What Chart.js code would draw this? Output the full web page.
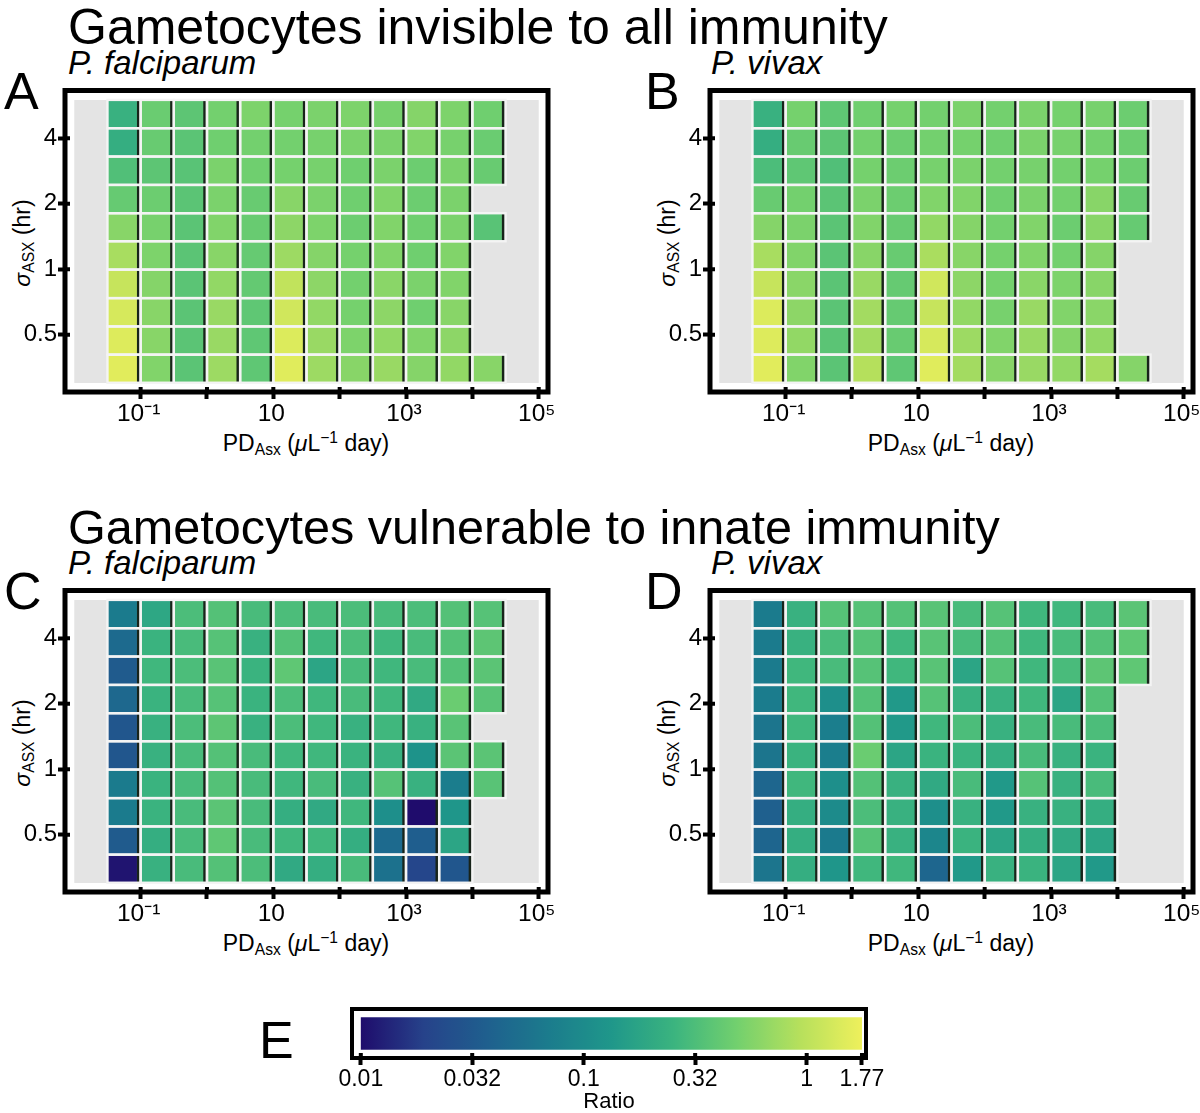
<!DOCTYPE html>
<html>
<head>
<meta charset="utf-8">
<script src="https://cdn.jsdelivr.net/npm/chart.js@4.4.0/dist/chart.umd.min.js"></script>
<style>
  html, body { margin:0; padding:0; background:#fff; }
  body { width:1200px; height:1113px; position:relative; overflow:hidden; font-family:"Liberation Sans", Arial, sans-serif; color:#000; }
  canvas { position:absolute; }
  .t { position:absolute; white-space:nowrap; line-height:1; color:#000; }
  .title { font-size:50px; }
  .title2 { font-size:48.6px; }
  .sub { font-size:33px; font-style:italic; }
  .letter { font-size:52px; }
  .axt { font-size:23px; }
  .axt sub { font-size:0.68em; vertical-align:-0.28em; line-height:0; }
  .axt sup { font-size:0.68em; vertical-align:0.5em; line-height:0; }
  .ytitle { transform:translate(-50%,-50%) rotate(-90deg); }
  .xtitle { transform:translateX(-50%); }
</style>
</head>
<body>
<div class="t title" style="left:68px;top:2px;">Gametocytes invisible to all immunity</div>
<div class="t title2" style="left:68px;top:503px;">Gametocytes vulnerable to innate immunity</div>
<div class="t sub" style="left:68px;top:46px;">P. falciparum</div>
<div class="t sub" style="left:711px;top:46px;">P. vivax</div>
<div class="t sub" style="left:68px;top:546px;">P. falciparum</div>
<div class="t sub" style="left:711px;top:546px;">P. vivax</div>
<div class="t letter" style="left:4px;top:65px;">A</div>
<div class="t letter" style="left:645px;top:65px;">B</div>
<div class="t letter" style="left:4px;top:565px;">C</div>
<div class="t letter" style="left:645px;top:565px;">D</div>
<div class="t letter" style="left:259px;top:1014px;">E</div>

<div class="t axt ytitle" style="left:22px;top:243px;"><i>σ</i><sub>ASX</sub> (hr)</div>
<div class="t axt ytitle" style="left:667px;top:243px;"><i>σ</i><sub>ASX</sub> (hr)</div>
<div class="t axt ytitle" style="left:22px;top:743px;"><i>σ</i><sub>ASX</sub> (hr)</div>
<div class="t axt ytitle" style="left:667px;top:743px;"><i>σ</i><sub>ASX</sub> (hr)</div>
<div class="t axt xtitle" style="left:306px;top:432px;">PD<sub>Asx</sub> (<i>μ</i>L<sup>−1</sup> day)</div>
<div class="t axt xtitle" style="left:951px;top:432px;">PD<sub>Asx</sub> (<i>μ</i>L<sup>−1</sup> day)</div>
<div class="t axt xtitle" style="left:306px;top:932px;">PD<sub>Asx</sub> (<i>μ</i>L<sup>−1</sup> day)</div>
<div class="t axt xtitle" style="left:951px;top:932px;">PD<sub>Asx</sub> (<i>μ</i>L<sup>−1</sup> day)</div>

<canvas id="pA" width="600" height="380" style="left:0px;top:80px;"></canvas>
<canvas id="pB" width="555" height="380" style="left:645px;top:80px;"></canvas>
<canvas id="pC" width="600" height="380" style="left:0px;top:580px;"></canvas>
<canvas id="pD" width="555" height="380" style="left:645px;top:580px;"></canvas>
<canvas id="cbar" width="620" height="123" style="left:300px;top:990px;"></canvas>

<script>
// ---------------- DATA ----------------
// Column categories: PD_Asx cell centres (µL^-1 day), half-decade bins
const PD_CENTERS = [0.0562, 0.178, 0.562, 1.78, 5.62, 17.8, 56.2, 178, 562, 1778, 5623, 17783];
// Row categories: sigma_ASX cell centres (hr), listed top row first
const SIGMA_CENTERS = [5.17, 3.83, 2.84, 2.10, 1.56, 1.16, 0.856, 0.634, 0.470, 0.349];

// Axis ticks
const X_TICKS = [0.1, 1, 10, 100, 1000, 10000, 100000];
const X_TICK_LABELS = ['10\u207B\u00B9', '', '10', '', '10\u00B3', '', '10\u2075'];
const Y_TICKS = [0.5, 1, 2, 4];
const Y_TICK_LABELS = ['0.5', '1', '2', '4'];

// Panel background extent (data range of the grid)
const PD_RANGE = [0.01, 100000];
const SIGMA_RANGE = [0.3, 6];

// Colour scale
const RATIO_LIMITS = [0.01, 1.77];
const CBAR_TICKS = [0.01, 0.0316, 0.1, 0.316, 1, 1.77];
const CBAR_TICK_LABELS = ['0.01', '0.032', '0.1', '0.32', '1', '1.77'];

// Ratio values; rows top (largest sigma) to bottom, columns by PD; null = no cell
const INVISIBLE_FALCIPARUM = [
  [0.24, 0.44, 0.38, 0.49, 0.54, 0.50, 0.53, 0.54, 0.51, 0.58, 0.54, 0.47],
  [0.22, 0.43, 0.37, 0.47, 0.49, 0.49, 0.51, 0.53, 0.53, 0.56, 0.51, 0.44],
  [0.33, 0.38, 0.36, 0.53, 0.47, 0.50, 0.51, 0.47, 0.53, 0.45, 0.53, 0.43],
  [0.42, 0.45, 0.37, 0.53, 0.43, 0.60, 0.53, 0.47, 0.56, 0.45, 0.53, null],
  [0.60, 0.51, 0.37, 0.56, 0.43, 0.63, 0.54, 0.45, 0.56, 0.47, 0.53, 0.36],
  [0.81, 0.54, 0.37, 0.60, 0.42, 0.73, 0.58, 0.50, 0.56, 0.47, 0.56, null],
  [1.11, 0.58, 0.37, 0.66, 0.41, 1.05, 0.63, 0.49, 0.61, 0.53, 0.56, null],
  [1.34, 0.60, 0.37, 0.70, 0.39, 1.25, 0.66, 0.50, 0.63, 0.47, 0.60, null],
  [1.46, 0.60, 0.37, 0.70, 0.39, 1.43, 0.70, 0.54, 0.66, 0.56, 0.63, null],
  [1.53, 0.56, 0.37, 0.73, 0.39, 1.50, 0.73, 0.60, 0.70, 0.58, 0.66, 0.60]
];
const INVISIBLE_VIVAX = [
  [0.24, 0.50, 0.39, 0.47, 0.50, 0.49, 0.53, 0.49, 0.53, 0.50, 0.51, 0.45],
  [0.22, 0.43, 0.38, 0.49, 0.45, 0.49, 0.50, 0.47, 0.53, 0.51, 0.49, 0.45],
  [0.31, 0.39, 0.33, 0.50, 0.45, 0.51, 0.53, 0.49, 0.51, 0.49, 0.50, 0.45],
  [0.43, 0.49, 0.37, 0.53, 0.45, 0.56, 0.56, 0.47, 0.53, 0.49, 0.60, 0.43],
  [0.58, 0.53, 0.37, 0.56, 0.43, 0.66, 0.58, 0.49, 0.56, 0.45, 0.60, 0.42],
  [0.81, 0.56, 0.37, 0.60, 0.43, 0.83, 0.60, 0.50, 0.56, 0.49, 0.58, null],
  [1.11, 0.61, 0.37, 0.70, 0.42, 1.25, 0.63, 0.50, 0.61, 0.54, 0.60, null],
  [1.43, 0.63, 0.37, 0.77, 0.42, 1.11, 0.66, 0.51, 0.70, 0.56, 0.61, null],
  [1.46, 0.66, 0.37, 0.77, 0.43, 1.34, 0.73, 0.56, 0.70, 0.58, 0.66, null],
  [1.53, 0.56, 0.37, 0.92, 0.39, 1.50, 0.77, 0.60, 0.70, 0.66, 0.79, 0.58]
];
const INNATE_FALCIPARUM = [
  [0.068, 0.19, 0.31, 0.34, 0.30, 0.31, 0.30, 0.31, 0.30, 0.31, 0.34, 0.35],
  [0.047, 0.25, 0.30, 0.35, 0.24, 0.34, 0.27, 0.31, 0.27, 0.30, 0.34, 0.38],
  [0.033, 0.27, 0.31, 0.36, 0.25, 0.39, 0.18, 0.30, 0.27, 0.30, 0.34, 0.37],
  [0.045, 0.25, 0.30, 0.35, 0.25, 0.31, 0.27, 0.30, 0.27, 0.20, 0.44, 0.36],
  [0.030, 0.24, 0.31, 0.38, 0.24, 0.31, 0.27, 0.24, 0.27, 0.24, 0.36, null],
  [0.030, 0.24, 0.30, 0.34, 0.30, 0.27, 0.27, 0.25, 0.24, 0.12, 0.37, 0.37],
  [0.068, 0.25, 0.30, 0.34, 0.30, 0.27, 0.30, 0.24, 0.35, 0.24, 0.072, 0.36],
  [0.068, 0.25, 0.30, 0.37, 0.30, 0.22, 0.20, 0.27, 0.11, 0.010, 0.13, null],
  [0.033, 0.22, 0.30, 0.39, 0.30, 0.27, 0.27, 0.22, 0.047, 0.036, 0.18, null],
  [0.011, 0.24, 0.30, 0.34, 0.31, 0.20, 0.22, 0.30, 0.055, 0.021, 0.030, null]
];
const INNATE_VIVAX = [
  [0.068, 0.24, 0.35, 0.35, 0.34, 0.36, 0.30, 0.35, 0.27, 0.27, 0.30, 0.37],
  [0.068, 0.24, 0.30, 0.35, 0.27, 0.36, 0.30, 0.34, 0.27, 0.30, 0.34, 0.39],
  [0.068, 0.27, 0.30, 0.35, 0.27, 0.36, 0.18, 0.35, 0.27, 0.30, 0.38, 0.39],
  [0.070, 0.27, 0.11, 0.34, 0.14, 0.35, 0.24, 0.24, 0.27, 0.18, 0.34, null],
  [0.060, 0.27, 0.073, 0.34, 0.14, 0.27, 0.31, 0.24, 0.30, 0.30, 0.31, null],
  [0.060, 0.25, 0.073, 0.44, 0.18, 0.25, 0.25, 0.22, 0.30, 0.24, 0.25, null],
  [0.043, 0.27, 0.11, 0.34, 0.24, 0.20, 0.30, 0.14, 0.35, 0.24, 0.30, null],
  [0.037, 0.22, 0.10, 0.31, 0.24, 0.11, 0.24, 0.14, 0.24, 0.24, 0.22, null],
  [0.042, 0.22, 0.066, 0.35, 0.24, 0.088, 0.25, 0.18, 0.22, 0.20, 0.18, null],
  [0.060, 0.22, 0.13, 0.27, 0.27, 0.043, 0.14, 0.24, 0.25, 0.18, 0.14, null]
];

// ---------------- STYLE ----------------
const COLOR_STOPS = [
  [0.000, [31, 12, 108]],
  [0.125, [38, 66, 138]],
  [0.250, [31, 95, 142]],
  [0.375, [27, 124, 141]],
  [0.500, [31, 151, 138]],
  [0.625, [59, 180, 127]],
  [0.750, [114, 208, 110]],
  [0.875, [182, 224, 92]],
  [1.000, [238, 240, 92]]
];
const PANEL_BG = '#e4e4e4';
const GAP_COLOR = '#f4f4f4';
const EDGE_COLOR = '#18241a';
const FONT = 'Liberation Sans';

Chart.defaults.font.family = FONT;
Chart.defaults.color = '#000';

const L10 = Math.log10;
function colorAt(t) {
  t = Math.max(0, Math.min(1, t));
  for (let i = 1; i < COLOR_STOPS.length; i++) {
    const [t1, c1] = COLOR_STOPS[i];
    const [t0, c0] = COLOR_STOPS[i - 1];
    if (t <= t1) {
      const f = (t - t0) / (t1 - t0);
      const c = c0.map((v, k) => Math.round(v + (c1[k] - v) * f));
      return `rgb(${c[0]},${c[1]},${c[2]})`;
    }
  }
  const c = COLOR_STOPS[COLOR_STOPS.length - 1][1];
  return `rgb(${c[0]},${c[1]},${c[2]})`;
}
function ratioColor(v) {
  const t = (L10(v) - L10(RATIO_LIMITS[0])) / (L10(RATIO_LIMITS[1]) - L10(RATIO_LIMITS[0]));
  return colorAt(t);
}
// geometric bin edges from centres
function edgesFrom(centres) {
  const lg = centres.map(L10);
  return lg.map((c, i) => {
    const prev = i > 0 ? lg[i - 1] : c - (lg[1] - lg[0]);
    const next = i < lg.length - 1 ? lg[i + 1] : c + (c - lg[i - 1]);
    return [(prev + c) / 2, (c + next) / 2];
  });
}
const ROW_EDGES = edgesFrom(SIGMA_CENTERS);

const panelDeco = {
  id: 'panelDeco',
  beforeDatasetsDraw(chart) {
    const { ctx, scales: { x, y } } = chart;
    const l = x.getPixelForValue(L10(PD_RANGE[0])), r = x.getPixelForValue(L10(PD_RANGE[1]));
    const t = y.getPixelForValue(L10(SIGMA_RANGE[1])), b = y.getPixelForValue(L10(SIGMA_RANGE[0]));
    ctx.save();
    ctx.fillStyle = PANEL_BG;
    ctx.fillRect(l, t, r - l, b - t);
    ctx.restore();
  },
  afterDatasetsDraw(chart) {
    const { ctx } = chart;
    const meta = chart.getDatasetMeta(0);
    ctx.save();
    ctx.strokeStyle = GAP_COLOR;
    ctx.lineWidth = 2.4;
    meta.data.forEach(bar => {
      const p = bar.getProps(['x', 'y', 'base', 'width'], true);
      ctx.strokeRect(p.x - p.width / 2, Math.min(p.y, p.base), p.width, Math.abs(p.base - p.y));
    });
    ctx.restore();
  },
  afterDraw(chart) {
    const { ctx, chartArea: a, scales: { x, y } } = chart;
    ctx.save();
    ctx.strokeStyle = '#000';
    ctx.lineWidth = 5;
    ctx.strokeRect(a.left, a.top, a.right - a.left, a.bottom - a.top);
    ctx.lineWidth = 4;
    ctx.beginPath();
    x.ticks.forEach(tk => { const px = x.getPixelForValue(tk.value); ctx.moveTo(px, a.bottom - 5); ctx.lineTo(px, a.bottom); });
    y.ticks.forEach(tk => { const py = y.getPixelForValue(tk.value); ctx.moveTo(a.left, py); ctx.lineTo(a.left + 5, py); });
    ctx.stroke();
    ctx.restore();
  }
};

function makePanel(id, matrix, padRight) {
  const pts = [], cols = [];
  matrix.forEach((row, ri) => {
    row.forEach((v, ci) => {
      if (v === null) return;
      const [lo, hi] = ROW_EDGES[ri];
      pts.push({ x: L10(PD_CENTERS[ci]), y: [lo, hi] });
      cols.push(ratioColor(v));
    });
  });
  const xPad = 0.14, yLo = L10(SIGMA_RANGE[0]) - 0.0415, yHi = L10(SIGMA_RANGE[1]) + 0.0437;
  new Chart(document.getElementById(id), {
    type: 'bar',
    data: { datasets: [{
      data: pts,
      backgroundColor: cols,
      borderColor: EDGE_COLOR,
      borderWidth: { top: 0, left: 0, bottom: 0, right: 4 },
      borderSkipped: false,
      grouped: false,
      categoryPercentage: 1,
      barPercentage: 1
    }] },
    options: {
      responsive: false,
      animation: false,
      events: [],
      layout: { padding: { left: 0, top: 10.5, right: padRight, bottom: 0 } },
      plugins: { legend: { display: false }, tooltip: { enabled: false } },
      scales: {
        x: {
          type: 'linear',
          offset: false,
          min: L10(PD_RANGE[0]) - xPad,
          max: L10(PD_RANGE[1]) + xPad,
          afterBuildTicks: s => { s.ticks = X_TICKS.map(v => ({ value: L10(v) })); },
          afterFit: s => { s.height = 68; s.paddingLeft = 0; s.paddingRight = 0; },
          ticks: { autoSkip: false, maxRotation: 0, padding: 1, labelOffset: -2, font: { size: 24.5, family: FONT }, color: '#000',
                   callback: (v, i) => X_TICK_LABELS[i] },
          grid: { offset: false, drawOnChartArea: false, drawTicks: true, tickLength: 7, tickWidth: 4, tickColor: '#000' },
          border: { display: false }
        },
        y: {
          type: 'linear',
          min: yLo,
          max: yHi,
          afterBuildTicks: s => { s.ticks = Y_TICKS.map(v => ({ value: L10(v) })); },
          afterFit: s => { s.width = 65; s.paddingTop = 0; s.paddingBottom = 0; },
          ticks: { autoSkip: false, padding: 1, font: { size: 24, family: FONT }, color: '#000',
                   callback: (v, i) => Y_TICK_LABELS[i] },
          grid: { drawOnChartArea: false, drawTicks: true, tickLength: 7, tickWidth: 4, tickColor: '#000' },
          border: { display: false }
        }
      }
    },
    plugins: [panelDeco]
  });
}

makePanel('pA', INVISIBLE_FALCIPARUM, 52);
makePanel('pB', INVISIBLE_VIVAX, 7);
makePanel('pC', INNATE_FALCIPARUM, 52);
makePanel('pD', INNATE_VIVAX, 7);

// ---------------- COLOUR BAR ----------------
const cbarFrame = {
  id: 'cbarFrame',
  afterDraw(chart) {
    const { ctx, chartArea: a, scales: { x } } = chart;
    ctx.save();
    ctx.strokeStyle = '#000';
    ctx.lineWidth = 4;
    ctx.strokeRect(a.left, a.top, a.right - a.left, a.bottom - a.top);
    ctx.beginPath();
    x.ticks.forEach(tk => { const px = x.getPixelForValue(tk.value); ctx.moveTo(px, a.bottom - 5); ctx.lineTo(px, a.bottom); });
    ctx.stroke();
    ctx.restore();
  }
};
const cbMinLog = L10(RATIO_LIMITS[0]) - 0.0395, cbMaxLog = L10(RATIO_LIMITS[1]) + 0.018;
new Chart(document.getElementById('cbar'), {
  type: 'bar',
  data: {
    labels: ['Ratio'],
    datasets: [{
      data: [[RATIO_LIMITS[0], RATIO_LIMITS[1]]],
      borderWidth: 0,
      categoryPercentage: 1,
      barPercentage: 0.66,
      backgroundColor: (c) => {
        const ch = c.chart;
        if (!ch.chartArea) return '#888';
        const xs = ch.scales.x;
        const x0 = xs.getPixelForValue(RATIO_LIMITS[0]), x1 = xs.getPixelForValue(RATIO_LIMITS[1]);
        const g = ch.ctx.createLinearGradient(x0, 0, x1, 0);
        for (let i = 0; i <= 40; i++) g.addColorStop(i / 40, colorAt(i / 40));
        return g;
      }
    }]
  },
  options: {
    indexAxis: 'y',
    responsive: false,
    animation: false,
    events: [],
    layout: { padding: { left: 52, top: 19, right: 54, bottom: 0 } },
    plugins: { legend: { display: false }, tooltip: { enabled: false } },
    scales: {
      y: { display: false },
      x: {
        type: 'logarithmic',
        min: Math.pow(10, cbMinLog),
        max: Math.pow(10, cbMaxLog),
        afterBuildTicks: s => { s.ticks = CBAR_TICKS.map(v => ({ value: v })); },
        afterFit: s => { s.height = 55; s.paddingLeft = 0; s.paddingRight = 0; },
        ticks: { autoSkip: false, maxRotation: 0, padding: 1, font: { size: 23, family: FONT }, color: '#000',
                 callback: (v, i) => CBAR_TICK_LABELS[i] },
        grid: { drawOnChartArea: false, drawTicks: true, tickLength: 7, tickWidth: 4, tickColor: '#000' },
        border: { display: false },
        title: { display: true, text: 'Ratio', font: { size: 22, family: FONT, lineHeight: 1 }, color: '#000', padding: { top: 0, bottom: 0 } }
      }
    }
  },
  plugins: [cbarFrame]
});
</script>
</body>
</html>
